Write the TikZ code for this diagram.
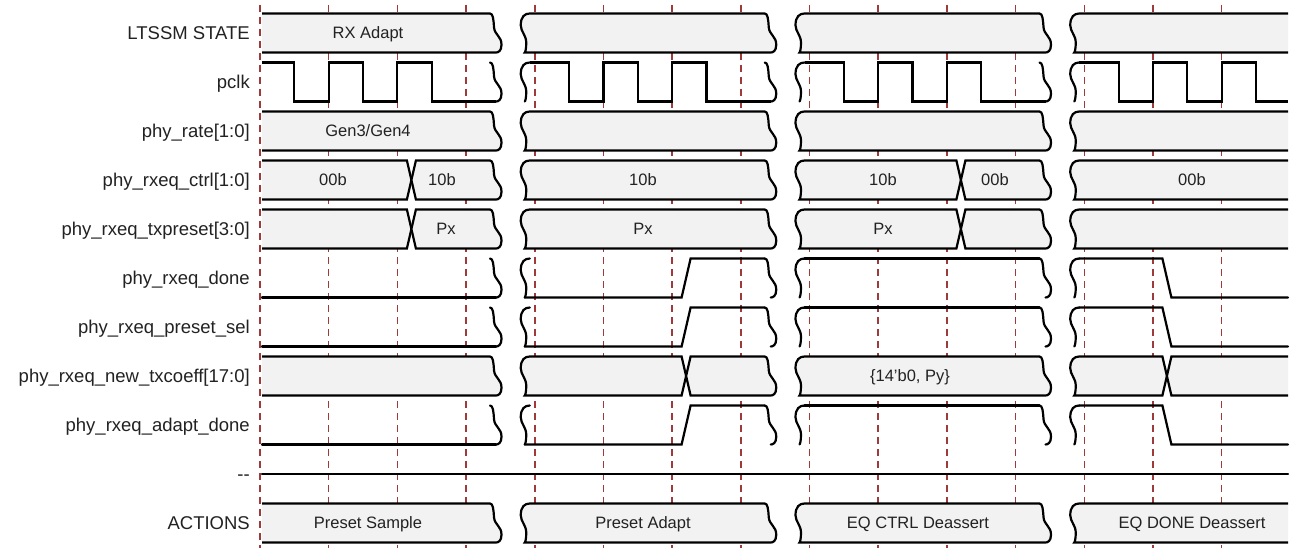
\documentclass[tikz,border=0pt]{standalone}
\usepackage{fontspec}
\setmainfont{Liberation Sans}
\definecolor{busfill}{HTML}{F2F2F2}
\definecolor{gridred}{HTML}{9E3A3A}
\definecolor{txt}{HTML}{222222}
% right squiggle, top -> bottom, from (R-7,T) to (R-1,B)
\newcommand\Rs[3]{ .. controls ({#1-4},#2) and ({#1-3.5},{#2+0.15*(#3-#2)}) .. ({#1-3},{#2+0.35*(#3-#2)})
 .. controls ({#1-2.5},{#2+0.55*(#3-#2)}) and ({#1+4.5},{#2+0.58*(#3-#2)}) .. ({#1+4.5},{#2+0.8*(#3-#2)})
 .. controls ({#1+4.5},{#2+0.97*(#3-#2)}) and ({#1+1},#3) .. ({#1-1},#3) }
% left squiggle, top -> bottom, from (L+8,T) to (L+3,B)
\newcommand\Lsdown[3]{ .. controls ({#1+3},#2) and ({#1-1},{#2+0.08*(#3-#2)}) .. ({#1-1},{#2+0.3*(#3-#2)})
 .. controls ({#1-1},{#2+0.47*(#3-#2)}) and ({#1+4.5},{#2+0.55*(#3-#2)}) .. ({#1+4.5},{#2+0.75*(#3-#2)})
 .. controls ({#1+4.5},{#2+0.9*(#3-#2)}) and ({#1+3.5},#3) .. ({#1+3},#3) }
% left squiggle, bottom -> top, from (L+3,B) to (L+8,T)
\newcommand\Lsup[3]{ .. controls ({#1+3.5},#3) and ({#1+4.5},{#2+0.9*(#3-#2)}) .. ({#1+4.5},{#2+0.75*(#3-#2)})
 .. controls ({#1+4.5},{#2+0.55*(#3-#2)}) and ({#1-1},{#2+0.47*(#3-#2)}) .. ({#1-1},{#2+0.3*(#3-#2)})
 .. controls ({#1-1},{#2+0.08*(#3-#2)}) and ({#1+3},#2) .. ({#1+8},#2) }
% bus boxes
\newcommand\boxFS[4]{\filldraw[bus] (#1,#3) -- ({#2-7},#3) \Rs{#2}{#3}{#4} -- (#1,#4);}
\newcommand\boxSS[4]{\filldraw[bus] ({#1+8},#3) -- ({#2-7},#3) \Rs{#2}{#3}{#4} -- ({#1+3},#4) \Lsup{#1}{#3}{#4} -- cycle;}
\newcommand\boxSF[4]{\filldraw[bus] (#2,#3) -- ({#1+8},#3) \Lsdown{#1}{#3}{#4} -- (#2,#4);}
\newcommand\boxFX[4]{\filldraw[bus] (#1,#3) -- ({#2-4.5},#3) -- (#2,{(#3+#4)/2}) -- ({#2-4.5},#4) -- (#1,#4);}
\newcommand\boxXS[4]{\filldraw[bus] ({#1+4.5},#3) -- ({#2-7},#3) \Rs{#2}{#3}{#4} -- ({#1+4.5},#4) -- (#1,{(#3+#4)/2}) -- cycle;}
\newcommand\boxSX[4]{\filldraw[bus] ({#1+8},#3) -- ({#2-4.5},#3) -- (#2,{(#3+#4)/2}) -- ({#2-4.5},#4) -- ({#1+3},#4) \Lsup{#1}{#3}{#4} -- cycle;}
\newcommand\boxXF[4]{\filldraw[bus] (#2,#3) -- ({#1+4.5},#3) -- (#1,{(#3+#4)/2}) -- ({#1+4.5},#4) -- (#2,#4);}
% squiggles for plain signals
\newcommand\sqR[3]{\draw[wave] ({#1-7},#2) \Rs{#1}{#2}{#3};}
\newcommand\sqL[3]{\draw[wave] ({#1+8},#2) \Lsdown{#1}{#2}{#3};}
\newcommand\allsq[2]{\sqR{497}{#1}{#2}\sqL{521.75}{#1}{#2}\sqR{771.75}{#1}{#2}\sqL{796.5}{#1}{#2}\sqR{1046.5}{#1}{#2}\sqL{1071.25}{#1}{#2}}
% clock for one section
\newcommand\clk[3]{\draw[wave,line cap=butt] (#1,62.5) -- ({#2+34.34},62.5) -- ({#2+34.34},101.5) -- ({#2+68.69},101.5) -- ({#2+68.69},62.5) -- ({#2+103.03},62.5) -- ({#2+103.03},101.5) -- ({#2+137.38},101.5) -- ({#2+137.38},62.5) -- ({#2+171.72},62.5) -- ({#2+171.72},101.5) -- (#3,101.5);}
% done-like signal (rise in sec1, fall in sec3)
\newcommand\dn[2]{%
 \draw[wave] (262,#2) -- (496,#2);
 \draw[wave] (524.75,#2) -- (681.6,#2) -- (690.6,#1) -- (764.75,#1);
 \draw[wave] (804.5,#1) -- (1039.5,#1);
 \draw[wave] (1079.25,#1) -- (1162.4,#1) -- (1171.4,#2) -- (1288,#2);
 \allsq{#1}{#2}}
\begin{document}
\begin{tikzpicture}[x=1pt,y=-1pt,
  wave/.style={line width=2.2pt, draw=black, line cap=round},
  bus/.style={line width=2.2pt, draw=black, fill=busfill},
  gridline/.style={draw=gridred, line width=1.5pt, dash pattern=on 7pt off 5pt},
  lbl/.style={anchor=base east, font=\fontsize{18.5}{20}\selectfont, text=txt, inner sep=0pt},
  val/.style={anchor=base, font=\fontsize{16.5}{18}\selectfont, text=txt, inner sep=0pt}]
\useasboundingbox (0,0) rectangle (1296,548);
\fill[white] (0,0) rectangle (1296,548);
% grid
\foreach \k in {0,...,14} {\draw[gridline] ({260+68.6875*\k},5) -- ({260+68.6875*\k},548);}
% labels
\node[lbl] (l0) at (250,39.5) {LTSSM STATE};
\node[lbl] (l1) at (250,88.5) {pclk};
\node[lbl] (l2) at (250,137.5) {phy\_rate[1:0]};
\node[lbl] (l3) at (250,186.5) {phy\_rxeq\_ctrl[1:0]};
\node[lbl] (l4) at (250,235.5) {phy\_rxeq\_txpreset[3:0]};
\node[lbl] (l5) at (250,284.5) {phy\_rxeq\_done};
\node[lbl] (l6) at (250,333.5) {phy\_rxeq\_preset\_sel};
\node[lbl] (l7) at (250,382.5) {phy\_rxeq\_new\_txcoeff[17:0]};
\node[lbl] (l8) at (250,431.5) {phy\_rxeq\_adapt\_done};
\node[lbl] (l9) at (250,480.5) {-{}-};
\node[lbl] (l10) at (250,529.5) {ACTIONS};
% row 0 LTSSM
\boxFS{262}{497}{13.5}{52.5}
\boxSS{521.75}{771.75}{13.5}{52.5}
\boxSS{796.5}{1046.5}{13.5}{52.5}
\boxSF{1071.25}{1288}{13.5}{52.5}
\node[val] (v0) at (368,38.9) {RX Adapt};
% row 1 pclk
\clk{262}{260}{496}
\clk{529.75}{534.75}{770.75}
\clk{804.5}{809.5}{1045.5}
\clk{1079.25}{1084.25}{1288}
\allsq{62.5}{101.5}
% row 2 phy_rate
\boxFS{262}{497}{111.5}{150.5}
\boxSS{521.75}{771.75}{111.5}{150.5}
\boxSS{796.5}{1046.5}{111.5}{150.5}
\boxSF{1071.25}{1288}{111.5}{150.5}
\node[val] (v2) at (368,136.9) {Gen3/Gen4};
% row 3 ctrl
\boxFX{262}{411.4}{160.5}{199.5}
\boxXS{411.4}{497}{160.5}{199.5}
\boxSS{521.75}{771.75}{160.5}{199.5}
\boxSX{796.5}{960.9}{160.5}{199.5}
\boxXS{960.9}{1046.5}{160.5}{199.5}
\boxSF{1071.25}{1288}{160.5}{199.5}
\node[val] (v3a) at (333,185.9) {00b};
\node[val] (v3b) at (442,185.9) {10b};
\node[val] (v3c) at (643,185.9) {10b};
\node[val] (v3d) at (883,185.9) {10b};
\node[val] (v3e) at (995,185.9) {00b};
\node[val] (v3f) at (1192,185.9) {00b};
% row 4 txpreset
\boxFX{262}{411.4}{209.5}{248.5}
\boxXS{411.4}{497}{209.5}{248.5}
\boxSS{521.75}{771.75}{209.5}{248.5}
\boxSX{796.5}{960.9}{209.5}{248.5}
\boxXS{960.9}{1046.5}{209.5}{248.5}
\boxSF{1071.25}{1288}{209.5}{248.5}
\node[val] (v4a) at (446,234.9) {Px};
\node[val] (v4b) at (643,234.9) {Px};
\node[val] (v4c) at (883,234.9) {Px};
% rows 5, 6
\dn{258.5}{297.5}
\dn{307.5}{346.5}
% row 7 coeff
\boxFS{262}{497}{356.5}{395.5}
\boxSX{521.75}{686.1}{356.5}{395.5}
\boxXS{686.1}{771.75}{356.5}{395.5}
\boxSS{796.5}{1046.5}{356.5}{395.5}
\boxSX{1071.25}{1166.9}{356.5}{395.5}
\boxXF{1166.9}{1288}{356.5}{395.5}
\node[val] (v7) at (910,381.9) {\{14'b0, Py\}};
% row 8
\dn{405.5}{444.5}
% row 9
\draw[wave] (262,474) -- (1288,474);
% row 10 actions
\boxFS{262}{497}{503.5}{542.5}
\boxSS{521.75}{771.75}{503.5}{542.5}
\boxSS{796.5}{1046.5}{503.5}{542.5}
\boxSF{1071.25}{1288}{503.5}{542.5}
\node[val] (v10a) at (368,528.9) {Preset Sample};
\node[val] (v10b) at (643,528.9) {Preset Adapt};
\node[val] (v10c) at (918,528.9) {EQ CTRL Deassert};
\node[val] (v10d) at (1192,528.9) {EQ DONE Deassert};
\end{tikzpicture}
\end{document}
